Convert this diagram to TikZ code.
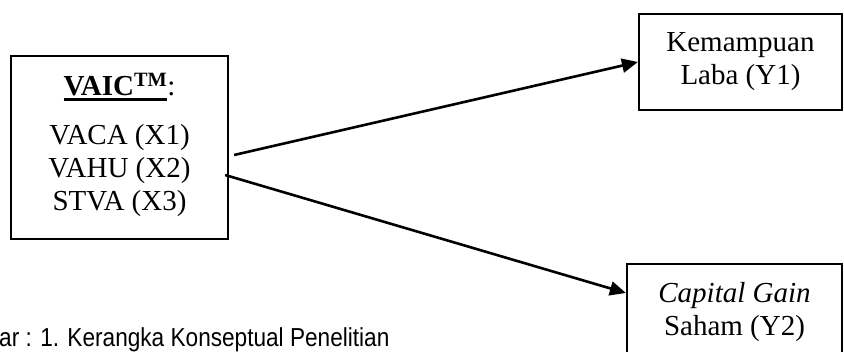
\documentclass[tikz,border=0pt]{standalone}
\usepackage{fontspec}
\setmainfont{Liberation Serif}
\newfontfamily\capfont{Liberation Sans}[FakeStretch=0.87]
\usepackage{tikz}
\usetikzlibrary{arrows.meta, positioning, calc}

% thick underline as in the original title
\newcommand{\thickul}[1]{\setbox0=\hbox{#1}\rlap{\rule[-5.5pt]{\wd0}{2.6pt}}\box0}

\begin{document}
\begin{tikzpicture}[
    x=1pt, y=1pt,
    varbox/.style={rectangle, draw=black, line width=2.2pt, align=center, inner sep=0pt},
    vartext/.style={align=center, inner sep=0pt, font=\fontsize{29}{33}\selectfont},
    arrow/.style={-{Triangle[length=16pt, width=14pt]}, line width=2.6pt, draw=black}
]
    \useasboundingbox (0,0) rectangle (844,351);
    \clip (0,0) rectangle (844,351);

    \node (vaic) [varbox, minimum width=217pt, minimum height=183pt] at (119.5,203.5) {};
    \node (vaictext) [vartext, anchor=north] at ($(vaic.north)+(0,-18)$) {\thickul{\textbf{VAIC\textsuperscript{TM}}}:\\[16pt]VACA (X1)\\VAHU (X2)\\STVA (X3)};

    \node (laba) [varbox, vartext, draw, line width=2.2pt, minimum width=203pt, minimum height=96pt] at (740.5,289) {Kemampuan\\Laba (Y1)};
    \node (gain) [varbox, vartext, draw, line width=2.2pt, minimum width=215pt, minimum height=96pt] at (734.5,39) {\textit{Capital Gain}\\Saham (Y2)};

    \node (cap) [anchor=base west, inner sep=0pt, font=\capfont\fontsize{26}{30}\selectfont] at (-1,4.5) {ar : 1. Kerangka Konseptual Penelitian};

    \draw [arrow] ($(vaic.east)+(5,-7.5)$) -- (laba.west);
    \draw [arrow] ($(vaic.east)+(-4,-27.5)$) -- ($(gain.west)+(0,19)$);
\end{tikzpicture}
\end{document}
